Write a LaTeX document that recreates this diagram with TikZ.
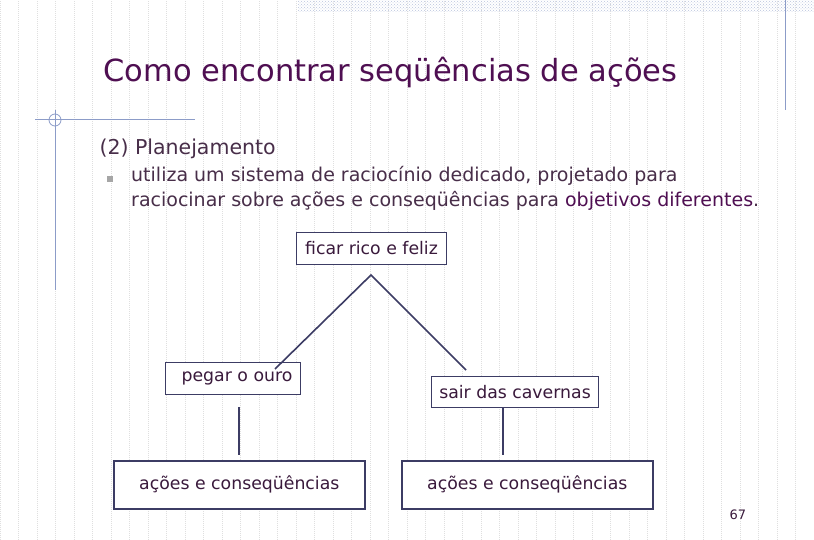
\documentclass[tikz,border=0pt]{standalone}
\usepackage{fontspec}
\setmainfont{DejaVu Sans}
\usetikzlibrary{patterns}
\definecolor{ttl}{HTML}{4F0F52}
\definecolor{txt}{HTML}{3A1A3C}
\definecolor{edge}{HTML}{3C3C64}
\definecolor{deco}{HTML}{8C9CC8}
\tikzset{x=1pt,y=-1pt,
 box/.style={draw=edge,line width=1pt,fill=white,text=txt,font=\fontsize{17.3}{19}\selectfont,inner sep=0pt,anchor=north west},
 conn/.style={draw=edge,line width=1.6pt}}
\begin{document}
\begin{tikzpicture}
\useasboundingbox (0,0) rectangle (814,540);
\fill[white] (0,0) rectangle (814,540);
\draw[gray!25,line width=0.5pt,dash pattern=on 1pt off 1pt,step=18.5] (0,0) grid (814,540);
\fill[pattern=crosshatch dots,pattern color=deco!60] (298,0) rectangle (814,12);
\draw[deco,line width=1pt] (785,0) -- (785,110);
\draw[deco,line width=1pt] (35,120) -- (195,120);
\draw[deco,line width=1pt] (55,110) -- (55,290);
\draw[deco,line width=0.8pt] (55,120) circle (6);
\node[anchor=west,text=ttl,font=\fontsize{30.5}{33}\selectfont] (title) at (100,72) {Como encontrar seqüências de ações};
\node[anchor=west,text=txt!80!gray,font=\fontsize{20.5}{24}\selectfont] (sub) at (96,149) {(2) Planejamento};
\fill[gray!70] (107,176) rectangle (113,182);
\node[anchor=north west,text=txt!80!gray,font=\fontsize{19}{25}\selectfont,align=left,inner sep=0pt] (body) at (131,166)
 {utiliza um sistema de raciocínio dedicado, projetado para\\raciocinar sobre ações e conseqüências para \textcolor{ttl}{objetivos diferentes}.};
\node[box,minimum width=150,minimum height=32] (top) at (296,232) {ficar rico e feliz};
\node[box,minimum width=135,minimum height=32] (gold) at (165,362) {\hspace*{8pt}pegar o ouro};
\node[box,minimum width=167,minimum height=31] (cave) at (431,376) {sair das cavernas};
\node[box,line width=1.6pt,minimum width=251,minimum height=48] (ac1) at (113,460) {ações e conseqüências};
\node[box,line width=1.6pt,minimum width=251,minimum height=48] (ac2) at (401,460) {ações e conseqüências};
\node[anchor=west,text=txt,font=\fontsize{13}{15}\selectfont] (pg) at (726,515) {67};
\coordinate (apex) at (371,275);
\coordinate (lend) at (275,369);
\coordinate (rend) at (466,370);
\coordinate (v1a) at (239,407);
\coordinate (v1b) at (239,455);
\coordinate (v2a) at (503,407);
\coordinate (v2b) at (503,455);
\draw[conn] (lend) -- (apex) -- (rend);
\draw[conn] (v1a) -- (v1b);
\draw[conn] (v2a) -- (v2b);
\end{tikzpicture}
\end{document}
